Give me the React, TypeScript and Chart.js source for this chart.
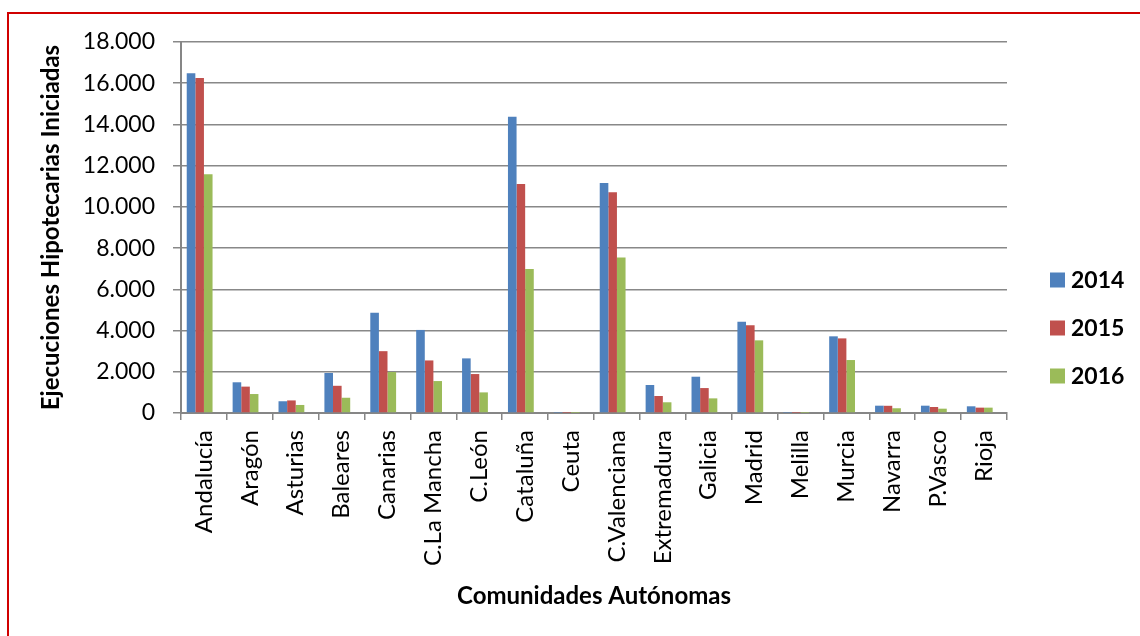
import React, { useEffect, useRef } from "react";
import { Chart, registerables } from "chart.js";

Chart.register(...registerables);

const categories = [
  "Andalucía", "Aragón", "Asturias", "Baleares", "Canarias", "C.La Mancha",
  "C.León", "Cataluña", "Ceuta", "C.Valenciana", "Extremadura", "Galicia",
  "Madrid", "Melilla", "Murcia", "Navarra", "P.Vasco", "Rioja",
];
const seriesLabels = ["2014", "2015", "2016"];
const values2014 = [16480, 1490, 570, 1940, 4860, 4030, 2650, 14370, 15, 11160, 1360, 1760, 4430, 15, 3720, 355, 355, 325];
const values2015 = [16250, 1280, 610, 1320, 3000, 2550, 1890, 11110, 10, 10710, 825, 1210, 4255, 10, 3620, 350, 290, 260];
const values2016 = [11580, 920, 390, 740, 1990, 1550, 1000, 6990, 8, 7550, 520, 710, 3525, 8, 2570, 230, 210, 260];
const seriesColors = ["#4F81BD", "#C0504D", "#9BBB59"];
const yMax = 18000;
const yStep = 2000;

const FONT = "Lato, 'Liberation Sans', sans-serif";

function fmt(v: number): string {
  return String(Math.round(v)).replace(/\B(?=(\d{3})+(?!\d))/g, ".");
}

const frameAndLegend = {
  id: "frameAndLegend",
  beforeDraw(chart: any) {
    const ctx = chart.ctx;
    ctx.save();
    ctx.fillStyle = "#ffffff";
    ctx.fillRect(0, 0, chart.width, chart.height);
    ctx.restore();
  },
  afterDraw(chart: any) {
    const ctx = chart.ctx;
    ctx.save();
    ctx.strokeStyle = "#D00000";
    ctx.lineWidth = 2;
    ctx.beginPath();
    ctx.moveTo(chart.width, 13);
    ctx.lineTo(8, 13);
    ctx.lineTo(8, chart.height);
    ctx.stroke();

    // legend
    const items = chart.data.datasets.filter((d: any) => d.label);
    ctx.font = "bold 23px " + FONT;
    ctx.textBaseline = "middle";
    ctx.textAlign = "left";
    items.forEach((d: any, i: number) => {
      const cy = 280 + i * 48;
      ctx.fillStyle = d.backgroundColor;
      ctx.fillRect(1050, cy - 7.5, 15, 15);
      ctx.fillStyle = "#000";
      ctx.fillText(d.label, 1071, cy + 1);
    });
    ctx.restore();
  },
};

export default function App() {
  const ref = useRef<HTMLCanvasElement | null>(null);

  useEffect(() => {
    if (!ref.current) return;
    const series = [values2014, values2015, values2016];
    const datasets: any[] = series.map((vals, i) => ({
      label: seriesLabels[i],
      data: vals,
      backgroundColor: seriesColors[i],
      borderWidth: 0,
      categoryPercentage: 0.75,
      barPercentage: 1,
    }));
    // empty spacer series (keeps the groups offset as in the original)
    datasets.push({ label: "", data: [], backgroundColor: "transparent", categoryPercentage: 0.75, barPercentage: 1 });

    const chart = new Chart(ref.current, {
      type: "bar",
      data: { labels: categories, datasets },
      plugins: [frameAndLegend],
      options: {
        animation: false,
        responsive: false,
        maintainAspectRatio: false,
        layout: { padding: { left: 0, right: 133, top: 42, bottom: 0 } },
        plugins: {
          legend: { display: false },
          tooltip: { enabled: false },
        },
        scales: {
          x: {
            afterFit: (s: any) => { s.height = 223; },
            grid: {
              offset: true,
              drawOnChartArea: false,
              drawTicks: true,
              tickLength: 7,
              color: "#868686",
              lineWidth: 1.5,
            },
            border: { color: "#868686", width: 2 },
            ticks: {
              minRotation: 90,
              maxRotation: 90,
              autoSkip: false,
              padding: 10,
              color: "#000",
              font: { family: FONT, size: 24 },
            },
            title: {
              display: true,
              text: "Comunidades Autónomas",
              color: "#000",
              font: { family: FONT, size: 24, weight: "bold" },
              padding: { top: 0, bottom: 25 },
            },
          },
          y: {
            min: 0,
            max: yMax,
            afterFit: (s: any) => { s.width = 181; },
            grid: {
              color: "#888888",
              lineWidth: 1.5,
              drawTicks: true,
              tickLength: 8,
            },
            border: { color: "#868686", width: 2 },
            ticks: {
              stepSize: yStep,
              padding: 18,
              color: "#000",
              font: { family: FONT, size: 23 },
              callback: (v: any) => fmt(Number(v)),
            },
            title: {
              display: true,
              text: "Ejecuciones Hipotecarias Iniciadas",
              color: "#000",
              font: { family: FONT, size: 24, weight: "bold" },
              padding: { top: 37, bottom: 0 },
            },
          },
        },
      } as any,
    });
    return () => chart.destroy();
  }, []);

  return (
    <div style={{ position: "absolute", left: 0, top: 0, width: 1140, height: 636, background: "#fff" }}>
      <canvas ref={ref} width={1140} height={636} style={{ width: 1140, height: 636, display: "block" }} />
    </div>
  );
}
